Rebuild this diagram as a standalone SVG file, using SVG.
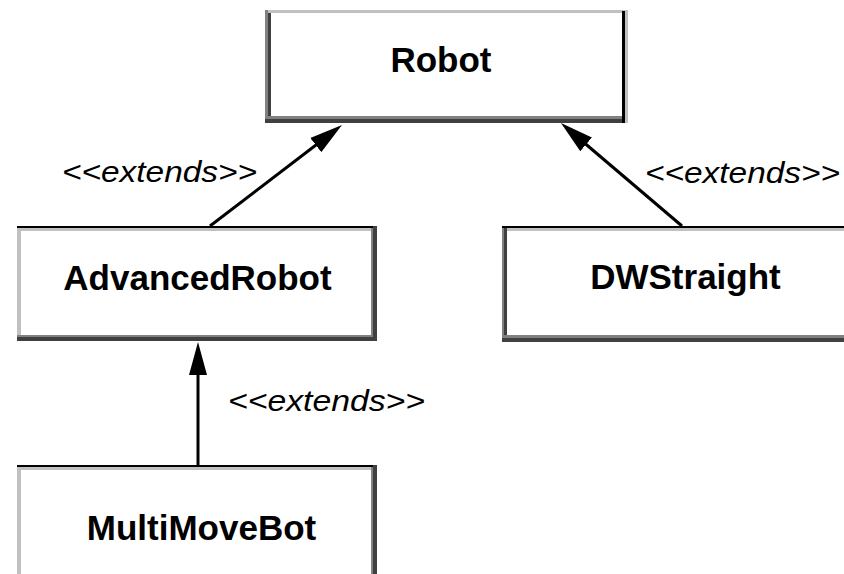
<svg xmlns="http://www.w3.org/2000/svg" width="844" height="574" viewBox="0 0 844 574">
  <style>
    .bg { fill: #ffffff; }
    .lt { fill: #c0c0c0; }
    .md { fill: #808080; }
    .dk { fill: #404040; }
    .bk { fill: #000000; }
    .name { font-family: "Liberation Sans", Arial, Helvetica, sans-serif; font-weight: bold; font-size: 35px; fill: #000; text-anchor: middle; }
    .lbl { font-family: "Liberation Sans", Arial, Helvetica, sans-serif; font-style: italic; font-size: 30px; fill: #000; }
    .conn { stroke: #000; stroke-width: 3; fill: none; marker-end: url(#head); }
  </style>
  <defs>
    <marker id="head" markerUnits="userSpaceOnUse" markerWidth="34" markerHeight="20" refX="13" refY="9" orient="auto" viewBox="0 0 34 18">
      <path d="M0,0 L33,9 L0,18 Z" fill="#000"/>
    </marker>
  </defs>
  <rect class="bg" x="0" y="0" width="844" height="574"/>

  <g id="robot">
    <rect class="bg" x="265" y="10" width="363" height="113"/>
    <rect class="lt" x="265" y="10" width="363" height="3"/>
    <rect class="md" x="265" y="10" width="3" height="113"/>
    <rect class="dk" x="268" y="13" width="3" height="110"/>
    <rect class="md" x="265" y="116" width="360" height="3"/>
    <rect class="dk" x="265" y="119" width="360" height="4"/>
    <rect class="bk" x="622" y="11" width="3" height="112"/>
    <rect class="lt" x="625" y="10" width="3" height="113"/>
    <text class="name" x="441" y="72">Robot</text>
  </g>

  <g id="advancedrobot">
    <rect class="bg" x="17" y="226" width="360" height="115"/>
    <rect class="bk" x="17" y="226" width="360" height="2"/>
    <rect class="lt" x="17" y="228" width="356" height="3"/>
    <rect class="lt" x="17" y="228" width="4" height="113"/>
    <rect class="md" x="371" y="228" width="2" height="109"/>
    <rect class="dk" x="373" y="226" width="4" height="115"/>
    <rect class="md" x="17" y="335" width="356" height="2"/>
    <rect class="dk" x="17" y="337" width="360" height="4"/>
    <text class="name" x="197.5" y="290">AdvancedRobot</text>
  </g>

  <g id="dwstraight">
    <rect class="bg" x="502" y="226" width="370" height="116"/>
    <rect class="bk" x="502" y="226" width="370" height="2"/>
    <rect class="lt" x="506" y="228" width="366" height="3"/>
    <rect class="md" x="502" y="228" width="2" height="114"/>
    <rect class="dk" x="504" y="228" width="3" height="114"/>
    <rect class="md" x="502" y="335" width="370" height="3"/>
    <rect class="dk" x="502" y="338" width="370" height="4"/>
    <text class="name" x="685.5" y="289">DWStraight</text>
  </g>

  <g id="multimovebot">
    <rect class="bg" x="17" y="465" width="360" height="115"/>
    <rect class="bk" x="17" y="465" width="360" height="2"/>
    <rect class="lt" x="17" y="467" width="356" height="3"/>
    <rect class="lt" x="17" y="467" width="4" height="113"/>
    <rect class="md" x="371" y="467" width="2" height="113"/>
    <rect class="dk" x="373" y="465" width="4" height="115"/>
    <text class="name" x="201.5" y="540">MultiMoveBot</text>
  </g>

  <g id="connectors">
    <path class="conn" d="M210,226 L326.1,137.2"/>
    <path class="conn" d="M682,226 L576.2,136"/>
    <path class="conn" d="M198,465 L198,362"/>
    <text class="lbl" x="62" y="182" textLength="195" lengthAdjust="spacingAndGlyphs">&lt;&lt;extends&gt;&gt;</text>
    <text class="lbl" x="645" y="183" textLength="195" lengthAdjust="spacingAndGlyphs">&lt;&lt;extends&gt;&gt;</text>
    <text class="lbl" x="228" y="411" textLength="197" lengthAdjust="spacingAndGlyphs">&lt;&lt;extends&gt;&gt;</text>
  </g>
</svg>
